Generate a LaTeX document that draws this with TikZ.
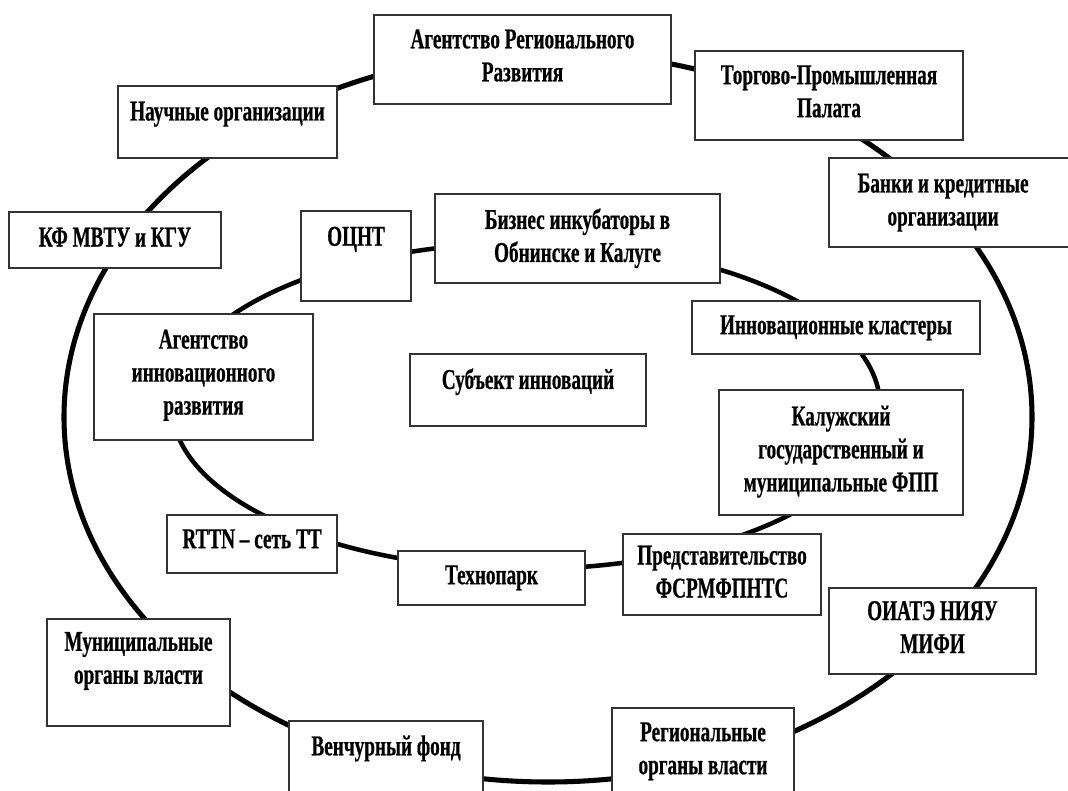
\documentclass[tikz,border=0pt]{standalone}
\usepackage{fontspec}
\setmainfont{Liberation Serif}[FakeStretch=0.67, BoldFeatures={FakeBold=0.6}]
\usepackage{tikz}
\usetikzlibrary{positioning,fit}

\begin{document}
\begin{tikzpicture}[x=0.75pt, y=-0.75pt,
  orgbox/.style={draw=black!80, line width=0.8pt, fill=white, inner sep=0pt},
  orglabel/.style={align=center, inner sep=0pt, font=\fontsize{21.5}{24.75}\selectfont\bfseries},
  ring/.style={line width=3.8pt}]
\useasboundingbox (0,0) rectangle (1068,791);
% the two rings
\draw[ring] (548,417) ellipse [x radius=484, y radius=365];
\draw[ring, line width=3.4pt] (526,406) ellipse [x radius=354, y radius=163];
% outer ring
\node[orgbox, fit={(374,15) (671,104)}] (agreg) {};
\node[orglabel, below=11pt of agreg.north] {Агентство Регионального\\Развития};
\node[orgbox, fit={(695,51) (963,140)}] (torg) {};
\node[orglabel, below=11pt of torg.north] {Торгово-Промышленная\\Палата};
\node[orgbox, fit={(118,86) (337,158)}] (nauch) {};
\node[orglabel, below=12pt of nauch.north] {Научные организации};
\node[orgbox, fit={(829,158) (1075,247)}] (banki) {};
\node[orglabel, below=12pt of banki.north west, xshift=86pt] {Банки и кредитные\\организации};
\node[orgbox, fit={(9,212) (221,268)}] (kfmvtu) {};
\node[orglabel, below=12pt of kfmvtu.north] {КФ МВТУ и КГУ};
\node[orgbox, fit={(829,588) (1036,674)}] (oiate) {};
\node[orglabel, below=10pt of oiate.north] {ОИАТЭ НИЯУ\\МИФИ};
\node[orgbox, fit={(47,619) (230,726)}] (munic) {};
\node[orglabel, below=10pt of munic.north] {Муниципальные\\органы власти};
\node[orgbox, fit={(289,721) (483,800)}] (venc) {};
\node[orglabel, below=11pt of venc.north] {Венчурный фонд};
\node[orgbox, fit={(612,708) (794,800)}] (region) {};
\node[orglabel, below=11pt of region.north] {Региональные\\органы власти};
% inner ring
\node[orgbox, fit={(301,211) (411,301)}] (ocnt) {};
\node[orglabel, below=12pt of ocnt.north] {ОЦНТ};
\node[orgbox, fit={(435,194) (720,283)}] (biznes) {};
\node[orglabel, below=11pt of biznes.north] {Бизнес инкубаторы в\\Обнинске и Калуге};
\node[orgbox, fit={(692,301) (980,354)}] (klaster) {};
\node[orglabel, below=11pt of klaster.north] {Инновационные кластеры};
\node[orgbox, fit={(94,314) (313,440)}] (agin) {};
\node[orglabel, below=12pt of agin.north] {Агентство\\инновационного\\развития};
\node[orgbox, fit={(719,390) (963,515)}] (kaluga) {};
\node[orglabel, below=12pt of kaluga.north] {Калужский\\государственный и\\муниципальные ФПП};
\node[orgbox, fit={(167,515) (337,573)}] (rttn) {};
\node[orglabel, below=11pt of rttn.north] {RTTN – сеть ТТ};
\node[orgbox, fit={(398,551) (585,605)}] (tehno) {};
\node[orglabel, below=11pt of tehno.north] {Технопарк};
\node[orgbox, fit={(623,534) (821,615)}] (fsr) {};
\node[orglabel, below=9pt of fsr.north] {Представительство\\ФСРМФПНТС};
% centre
\node[orgbox, fit={(410,354) (646,426)}] (subj) {};
\node[orglabel, below=11pt of subj.north] {Субъект инноваций};
\end{tikzpicture}
\end{document}
